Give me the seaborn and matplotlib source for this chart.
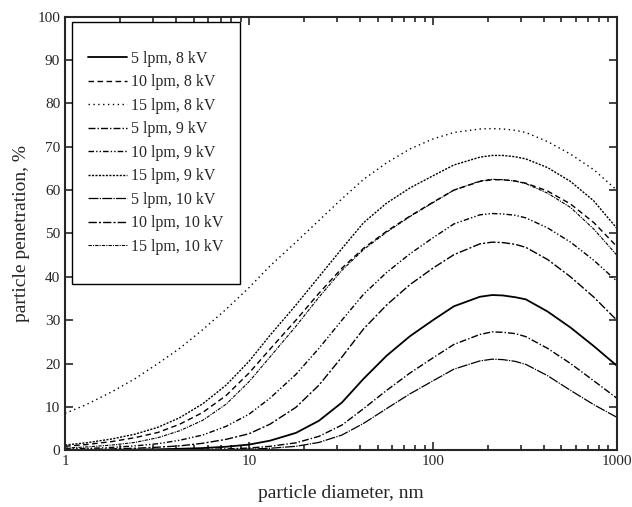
import numpy as np
import pandas as pd
import matplotlib
matplotlib.use("Agg")
import matplotlib.pyplot as plt
from matplotlib.patches import Rectangle
from matplotlib.ticker import FixedLocator, FixedFormatter, LogLocator, NullFormatter
import seaborn as sns

# particle diameter, nm
diam = [1, 1.3, 1.8, 2.4, 3.2, 4.2, 5.6, 7.5, 10, 13, 18, 24, 32, 42, 56, 75,
        100, 130, 180, 210, 240, 280, 320, 420, 560, 750, 1000]

# penetration, %
p_5lpm_8kv = [0.05, 0.07, 0.1, 0.15, 0.22, 0.33, 0.5, 0.8, 1.3, 2.2, 4, 6.8, 11, 16.5, 21.8, 26.3,
              30, 33.2, 35.4, 35.8, 35.7, 35.3, 34.8, 32, 28.3, 24, 19.5]
p_10lpm_8kv = [0.9, 1.3, 2.0, 2.9, 4.1, 6.0, 8.7, 12.6, 17.8, 23.3, 30, 36.2, 42, 46.6, 50.5, 54,
               57.2, 60, 62, 62.4, 62.4, 62.1, 61.6, 59.8, 56.8, 52.5, 47]
p_15lpm_8kv = [8.5, 10.5, 13.5, 16.5, 20, 23.5, 27.8, 32.5, 37.5, 42.5, 48, 53, 58, 62.5, 66.3, 69.5,
               71.8, 73.3, 74.1, 74.2, 74.1, 73.8, 73.3, 71.2, 68.3, 64.7, 60]
p_5lpm_9kv = [0.02, 0.03, 0.04, 0.06, 0.08, 0.12, 0.18, 0.3, 0.5, 0.9, 1.7, 3.2, 5.8, 9.6, 13.8, 17.8,
              21.3, 24.4, 26.7, 27.3, 27.2, 26.9, 26.2, 23.5, 20, 16, 12]
p_10lpm_9kv = [0.3, 0.4, 0.65, 1.0, 1.5, 2.3, 3.5, 5.5, 8.3, 12, 17.5, 23.5, 30, 36, 41, 45.3,
               49, 52.2, 54.3, 54.6, 54.5, 54.2, 53.6, 51.3, 48, 43.8, 39]
p_15lpm_9kv = [1.2, 1.7, 2.6, 3.7, 5.3, 7.5, 10.7, 15, 20.5, 26.5, 33.5, 40, 46.5, 52.5, 57, 60.5,
               63.3, 65.8, 67.6, 68, 68, 67.7, 67.2, 65.2, 62, 57.5, 51.2]
p_5lpm_10kv = [0.01, 0.01, 0.02, 0.03, 0.04, 0.06, 0.09, 0.15, 0.25, 0.45, 0.9, 1.8, 3.5, 6.2, 9.6, 13,
               16, 18.7, 20.6, 21, 20.9, 20.5, 19.8, 17.2, 13.8, 10.5, 7.6]
p_10lpm_10kv = [0.15, 0.2, 0.3, 0.45, 0.7, 1.0, 1.6, 2.5, 3.8, 6, 9.9, 15, 21.5, 28, 33.5, 38.2,
                42, 45.1, 47.6, 48, 47.9, 47.5, 46.8, 44, 40, 35.3, 30]
p_15lpm_10kv = [0.5, 0.75, 1.2, 1.8, 2.9, 4.5, 6.9, 10.6, 15.8, 21.5, 28.6, 35.3, 41.5, 46.3, 50.3, 53.9,
                57.1, 60, 62.1, 62.5, 62.4, 62.1, 61.5, 59.3, 56, 51, 45]

labels = ["5 lpm, 8 kV", "10 lpm, 8 kV", "15 lpm, 8 kV",
          "5 lpm, 9 kV", "10 lpm, 9 kV", "15 lpm, 9 kV",
          "5 lpm, 10 kV", "10 lpm, 10 kV", "15 lpm, 10 kV"]
series = [p_5lpm_8kv, p_10lpm_8kv, p_15lpm_8kv,
          p_5lpm_9kv, p_10lpm_9kv, p_15lpm_9kv,
          p_5lpm_10kv, p_10lpm_10kv, p_15lpm_10kv]

# line look for each curve
styles = ["-", (0, (4, 2.5)), (0, (1, 2.5)),
          (0, (5, 1.5, 1, 1.5)), (0, (4, 1.5, 1, 1.5, 1, 1.5)), (0, (1.5, 1)),
          (0, (8, 1, 1, 1)), (0, (6, 1.5, 1.5, 1.5)), (0, (3, 1, 1, 1))]
widths = [1.3, 1.0, 1.0, 1.0, 1.0, 1.0, 0.9, 1.0, 0.8]

sns.set_style("ticks")
plt.rcParams["font.family"] = ["Liberation Serif", "DejaVu Serif"]

fig = plt.figure(figsize=(6.32, 5.07), dpi=100)
ax = fig.add_axes([0.103, 0.112, 0.873, 0.855])

for lab, vals, ls, lw in zip(labels, series, styles, widths):
    df = pd.DataFrame({"diam": diam, "pen": vals})
    sns.lineplot(data=df, x="diam", y="pen", ax=ax, color="black",
                 linestyle=ls, linewidth=lw, label=lab)

ax.set_xscale("log")
ax.set_xlim(1, 1000)
ax.set_ylim(0, 100)
ax.xaxis.set_major_locator(FixedLocator([1, 10, 100, 1000]))
ax.xaxis.set_major_formatter(FixedFormatter(["1", "10", "100", "1000"]))
ax.xaxis.set_minor_locator(LogLocator(base=10, subs=np.arange(2, 10)))
ax.xaxis.set_minor_formatter(NullFormatter())
ax.set_yticks(np.arange(0, 101, 10))

ax.tick_params(which="both", direction="in", top=True, right=True, labelsize=11, width=1.2)
ax.tick_params(which="major", length=6)
ax.tick_params(which="minor", length=3.5)
for sp in ax.spines.values():
    sp.set_linewidth(1.5)
    sp.set_visible(True)

ax.set_xlabel("particle diameter, nm", fontsize=14, labelpad=12)
ax.set_ylabel("particle penetration, %", fontsize=14, labelpad=5)

# legend without its own frame; a taller box is drawn around it
leg = ax.legend(loc="upper left", bbox_to_anchor=(0.0127, 0.958), borderaxespad=0,
                fontsize=11.5, frameon=False,
                handlelength=2.45, handletextpad=0.25, labelspacing=0.47, borderpad=1.0)
leg.set_zorder(6)

fig.canvas.draw()
bb = leg.get_window_extent()
extra = 13
inv = fig.transFigure.inverted()
(x0, y0), (x1, y1) = inv.transform([(bb.x0, bb.y0 - extra), (bb.x1, bb.y1 + extra)])
box = Rectangle((x0, y0), x1 - x0, y1 - y0, transform=fig.transFigure,
                facecolor="white", edgecolor="black", linewidth=1.0, zorder=5.5, clip_on=False)
ax.add_patch(box)

fig.savefig("out.png", dpi=100)
